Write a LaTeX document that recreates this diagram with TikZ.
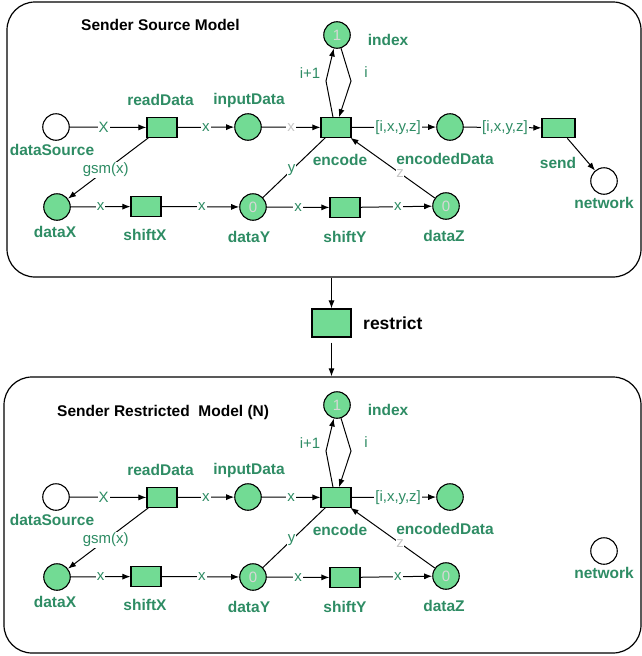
\documentclass[tikz,border=0pt]{standalone}
\usepackage{fontspec}
\setmainfont{Liberation Sans}
\usetikzlibrary{arrows.meta}

\definecolor{placefill}{RGB}{114,219,148}
\definecolor{namegreen}{RGB}{46,140,100}
\definecolor{inscrgray}{RGB}{200,200,200}
\definecolor{tokengray}{RGB}{215,215,215}

\tikzset{
  pnode/.style={circle, draw=black, line width=1.1pt, fill=placefill,
    minimum size=26.5pt, inner sep=0pt, text=tokengray,
    font=\fontsize{15}{15}\selectfont},
  emptypnode/.style={pnode, fill=white},
  tnode/.style={rectangle, draw=black, line width=1.1pt, fill=placefill,
    minimum width=30pt, minimum height=19.5pt, inner sep=0pt},
  pname/.style={font=\bfseries\fontsize{15.5}{16}\selectfont,
    text=namegreen, inner sep=0pt},
  paneltitle/.style={font=\bfseries\fontsize{15.5}{16}\selectfont,
    text=black, inner sep=0pt, anchor=west},
  flow/.style={line width=1pt, -{Latex[length=8pt,width=6pt]}},
  plainflow/.style={line width=1pt},
  inscr/.style={font=\fontsize{15}{15}\selectfont, text=namegreen,
    fill=white, inner sep=1pt},
  inscrtext/.style={font=\fontsize{15}{15}\selectfont, text=namegreen,
    inner sep=0pt},
  panel/.style={draw=black, line width=1.2pt, rounded corners=28pt,
    inner sep=0pt},
}

% The sender net shared by both models.
% #1: node name prefix, #2: colour of the inscription inputData -> encode
\newcommand{\senderNet}[2]{%
  % places and transitions
  \node[emptypnode] (#1src) at (56,127) {};
  \node[tnode] (#1rd) at (162,127.5) {};
  \node[pnode] (#1in) at (248,127) {};
  \node[tnode] (#1enc) at (336,127.5) {};
  \node[pnode] (#1idx) at (337,35) {1};
  \node[pnode] (#1ed) at (450,127) {};
  \node[emptypnode] (#1net) at (604,181) {};
  \node[pnode] (#1dx) at (57,207) {};
  \node[tnode] (#1sx) at (146,206.5) {};
  \node[pnode] (#1dy) at (253,207) {0};
  \node[tnode] (#1sy) at (345,207.5) {};
  \node[pnode] (#1dz) at (446,206) {0};
  % names
  \node[pname] (#1srcL) at (52,150) {dataSource};
  \node[pname] (#1rdL) at (160.5,100) {readData};
  \node[pname] (#1inL) at (249,100) {inputData};
  \node[pname] (#1encL) at (340,160) {encode};
  \node[pname] (#1idxL) at (388,40) {index};
  \node[pname] (#1edL) at (445,158.5) {encodedData};
  \node[pname] (#1netL) at (604,203) {network};
  \node[pname] (#1dxL) at (55,232) {dataX};
  \node[pname] (#1sxL) at (145,235) {shiftX};
  \node[pname] (#1dyL) at (249,237) {dataY};
  \node[pname] (#1syL) at (345,237) {shiftY};
  \node[pname] (#1dzL) at (444,236) {dataZ};
  % arcs
  \draw[flow] (#1src) -- node[inscr, pos=0.44] {X} (#1rd);
  \draw[flow] (#1rd) -- node[inscr] {x} (#1in);
  \draw[flow] (#1in) -- node[inscr, text=#2] {x} (#1enc);
  \draw[flow] (#1enc) -- node[inscr, pos=0.55] {[i,x,y,z]} (#1ed);
  \draw[flow] (#1rd) -- node[inscr, pos=0.53] {gsm(x)} (#1dx);
  \draw[flow] (#1dx) -- node[inscr] {x} (#1sx);
  \draw[flow] (#1sx) -- node[inscr, pos=0.52] {x} (#1dy);
  \draw[flow] (#1dy) -- node[inscr] {x} (#1sy);
  \draw[flow] (#1sy) -- node[inscr, pos=0.52] {x} (#1dz);
  \draw[plainflow] (#1dy) -- node[inscr, pos=0.46] {y} (#1enc);
  \draw[flow] (#1dz) -- node[inscr, pos=0.41, inner sep=0.3pt, text=inscrgray] {z} (#1enc);
  \draw[flow] ([xshift=-3pt]#1enc.north) -- (326,81) -- (#1idx);
  \draw[flow] (#1idx) -- (351,81) -- ([xshift=3pt]#1enc.north);
  \node[inscrtext] (#1incL) at (310,73) {i+1};
  \node[inscrtext] (#1readL) at (366,72) {i};
}

\begin{document}
\begin{tikzpicture}[x=1pt, y=-1pt]
  \useasboundingbox (0,0) rectangle (642,656);

  % source model
  \node[panel, minimum width=634pt, minimum height=275pt] (srcpanel) at (324,139.5) {};
  \node[paneltitle] (srctitle) at (81,25) {Sender Source Model};
  \senderNet{s}{inscrgray}
  \node[tnode, minimum width=33pt] (ssend) at (558.5,128) {};
  \node[pname] (ssendL) at (558,163) {send};
  \draw[flow] (sed) -- node[inscr, pos=0.53] {[i,x,y,z]} (ssend);
  \draw[flow] (ssend) -- (snet);

  % restriction step
  \node[tnode, minimum width=39pt, minimum height=28pt] (restrict) at (331.5,323) {};
  \node[paneltitle, font=\bfseries\fontsize{17.5}{18}\selectfont] (restrictL) at (363,323) {restrict};

  % restricted model
  \node[panel, minimum width=637pt, minimum height=276pt] (rstpanel) at (322.5,515) {};
  \node[paneltitle] (rsttitle) at (57,412) {Sender Restricted\ \ Model (N)};
  \begin{scope}[yshift=-370pt]
    \senderNet{r}{namegreen}
  \end{scope}

  \draw[flow] (restrict.north |- srcpanel.south) -- (restrict);
  \draw[flow, shorten <=5pt] (restrict) -- (restrict.south |- rstpanel.north);
\end{tikzpicture}
\end{document}
